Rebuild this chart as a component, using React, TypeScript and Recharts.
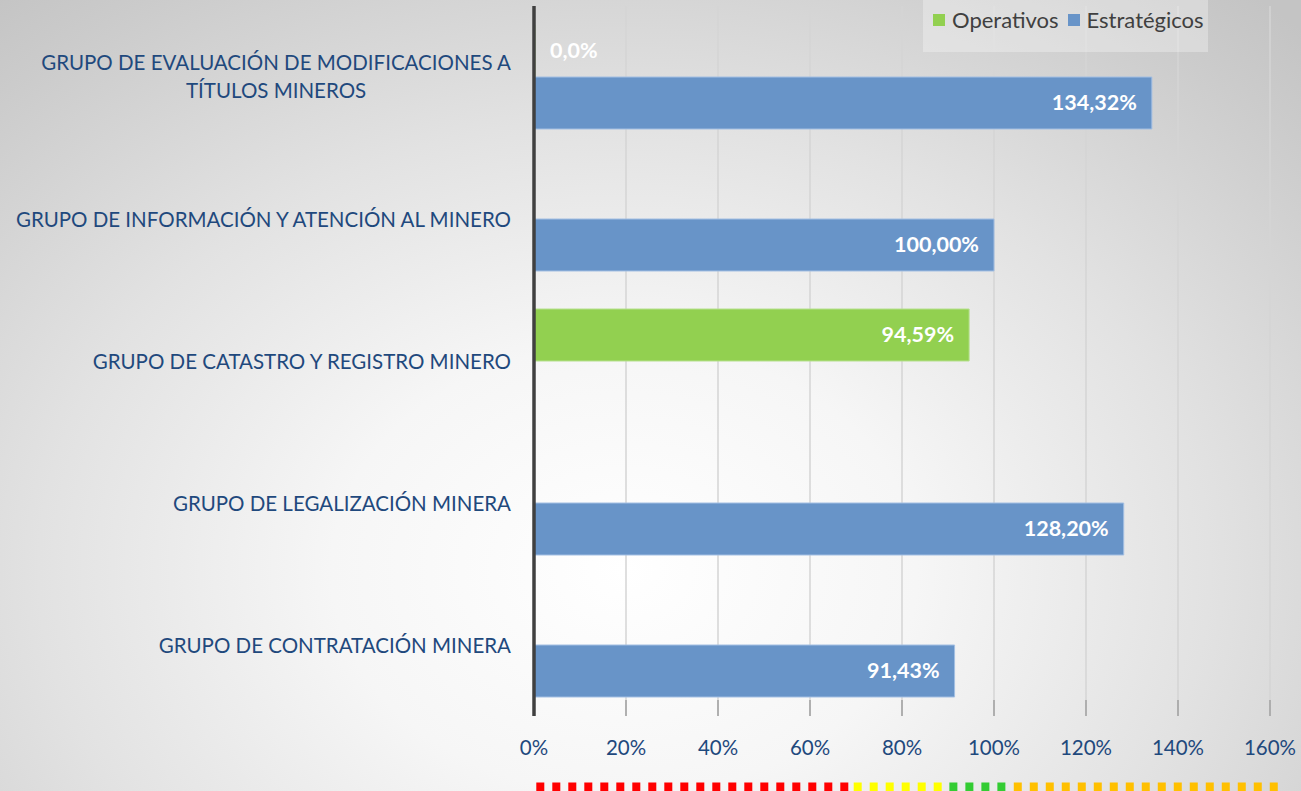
import React, { useLayoutEffect, useRef, useState } from 'react';
import * as RC from 'recharts';
import { BarChart, Bar, XAxis, YAxis, CartesianGrid, LabelList, Legend, Customized } from 'recharts';

// ---- data ----
const categories: string[] = [
  'GRUPO DE EVALUACIÓN DE MODIFICACIONES A\nTÍTULOS MINEROS',
  'GRUPO DE INFORMACIÓN Y ATENCIÓN AL MINERO',
  'GRUPO DE CATASTRO Y REGISTRO MINERO',
  'GRUPO DE LEGALIZACIÓN MINERA',
  'GRUPO DE CONTRATACIÓN MINERA',
];
const operativos: (number | null)[] = [0, null, 94.59, null, null];
const estrategicos: (number | null)[] = [134.32, 100.0, null, 128.2, 91.43];
const xTicks: number[] = [0, 20, 40, 60, 80, 100, 120, 140, 160];
const seriesNames = { op: 'Operativos', es: 'Estratégicos' };
const scaleBands = [
  { from: 0.5, to: 69, color: '#ff0000' },
  { from: 69.5, to: 90, color: '#ffff00' },
  { from: 90.3, to: 104, color: '#33cc33' },
  { from: 104.3, to: 162.5, color: '#ffc000' },
];

const data = categories.map((name, i) => ({ name, op: operativos[i], es: estrategicos[i] }));

const BLUE = '#6894c8';
const GREEN = '#92d050';
const TEXT_BLUE = '#1f497d';
const FONT = 'Lato, "Open Sans", sans-serif';
const DOMAIN_MAX = 160;

const fmt = (v: number) => (v === 0 ? '0,0%' : v.toFixed(2).replace('.', ',') + '%');

function YTick(props: any) {
  const { x, y, payload } = props;
  const lines = String(payload.value).split('\n');
  const ref = useRef<SVGTextElement>(null);
  const [w, setW] = useState(0);
  useLayoutEffect(() => {
    if (ref.current) {
      const bw = ref.current.getComputedTextLength();
      if (Math.abs(bw - w) > 0.5) setW(bw);
    }
  });
  const lh = 28;
  const style = { fontFamily: FONT, fontSize: 20.5, fill: TEXT_BLUE };
  if (lines.length === 1) {
    return (
      <text x={x} y={y} textAnchor="end" dominantBaseline="central" style={style}>
        {lines[0]}
      </text>
    );
  }
  const y0 = y - 1 - ((lines.length - 1) * lh) / 2;
  return (
    <g>
      {lines.map((l, i) => (
        <text
          key={i}
          ref={i === 0 ? ref : undefined}
          x={i === 0 ? x : x - w / 2}
          y={y0 + i * lh}
          textAnchor={i === 0 ? 'end' : 'middle'}
          dominantBaseline="central"
          style={style}
        >
          {l}
        </text>
      ))}
    </g>
  );
}

const renderLabel = (p: any) => {
  const { x, y, width, height, value } = p;
  if (value === null || value === undefined || value === '') return null;
  const num = Number(value);
  const common = {
    y: Number(y) + Number(height) / 2 - 1,
    dominantBaseline: 'central' as const,
    style: { fontFamily: FONT, fontSize: 21.5, fontWeight: 700 },
  };
  if (num === 0) {
    return (
      <text x={Number(x) + 16} textAnchor="start" fill="#ffffff" {...common}>
        {fmt(num)}
      </text>
    );
  }
  return (
    <text x={Number(x) + Number(width) - 15} textAnchor="end" fill="#ffffff" {...common}>
      {fmt(num)}
    </text>
  );
};

const zeroMinSize = (v: any) => (v === 0 ? 1 : 0);

function DotBands() {
  const usePA = (RC as any).usePlotArea;
  const useOff = (RC as any).useOffset;
  let area: any = null;
  if (usePA) area = usePA();
  else if (useOff) {
    const o = useOff();
    if (o) area = { x: o.left, y: o.top, width: o.width, height: o.height };
  }
  if (!area) return null;
  const sx = (v: number) => area.x + (v / DOMAIN_MAX) * area.width;
  const yy = area.y + area.height + 71;
  return (
    <g>
      {scaleBands.map((b, i) => (
        <line
          key={i}
          x1={sx(b.from)}
          x2={sx(b.to)}
          y1={yy}
          y2={yy}
          stroke={b.color}
          strokeWidth={9}
          strokeDasharray="8 8"
        />
      ))}
    </g>
  );
}

const renderLegend = () => (
  <div
    style={{
      width: '100%',
      height: '100%',
      background: 'rgba(255,255,255,0.3)',
      display: 'flex',
      alignItems: 'flex-start',
      paddingTop: 6,
      paddingLeft: 10,
      boxSizing: 'border-box',
      fontFamily: FONT,
      fontSize: 22,
      color: '#404040',
      whiteSpace: 'nowrap',
    }}
  >
    {[
      { c: GREEN, t: seriesNames.op },
      { c: BLUE, t: seriesNames.es },
    ].map((it) => (
      <span key={it.t} style={{ display: 'inline-flex', alignItems: 'center', marginRight: 9 }}>
        <span style={{ display: 'inline-block', width: 12, height: 12, background: it.c, marginRight: 7 }} />
        {it.t}
      </span>
    ))}
  </div>
);

export default function App() {
  return (
    <div
      style={{
        position: 'absolute',
        left: 0,
        top: 0,
        width: 1301,
        height: 791,
        overflow: 'hidden',
        background:
          'radial-gradient(ellipse 75% 95% at 48% 72%, #ffffff 0%, #f6f6f6 30%, #e2e2e2 60%, #cbcbcb 90%, #c4c4c4 100%)',
      }}
    >
      <BarChart
        width={1301}
        height={791}
        layout="vertical"
        data={data}
        margin={{ top: 6, right: 31, left: 0, bottom: 0 }}
        barGap={0}
        style={{ fontFamily: FONT }}
      >
        <CartesianGrid horizontal={false} stroke="#d4d4d4" strokeWidth={1.5} />
        <XAxis
          type="number"
          domain={[0, DOMAIN_MAX]}
          ticks={xTicks}
          tickFormatter={(v: number) => `${v}%`}
          axisLine={false}
          tickLine={{ stroke: '#a0a0a0', strokeWidth: 1.5 }}
          tickSize={-16}
          tickMargin={40}
          height={75}
          tick={{ fill: TEXT_BLUE, fontSize: 20.5, fontFamily: FONT }}
          interval={0}
        />
        <Bar dataKey="op" name={seriesNames.op} fill={GREEN} stroke="#b6e08e" strokeWidth={1} barSize={52} minPointSize={zeroMinSize} isAnimationActive={false}>
          <LabelList dataKey="op" content={renderLabel} />
        </Bar>
        <Bar dataKey="es" name={seriesNames.es} fill={BLUE} stroke="#a3bfe3" strokeWidth={1} barSize={52} isAnimationActive={false}>
          <LabelList dataKey="es" content={renderLabel} />
        </Bar>
        <YAxis
          type="category"
          dataKey="name"
          width={534}
          axisLine={{ stroke: '#404040', strokeWidth: 3.5 }}
          tickLine={false}
          tickSize={0}
          tickMargin={23}
          tick={<YTick />}
          interval={0}
        />
        <Legend
          layout="horizontal"
          verticalAlign="middle"
          align="center"
          content={renderLegend}
          wrapperStyle={{ position: 'absolute', left: 923, top: 0, width: 285, height: 52 }}
        />
        <Customized component={<DotBands />} />
      </BarChart>
    </div>
  );
}
